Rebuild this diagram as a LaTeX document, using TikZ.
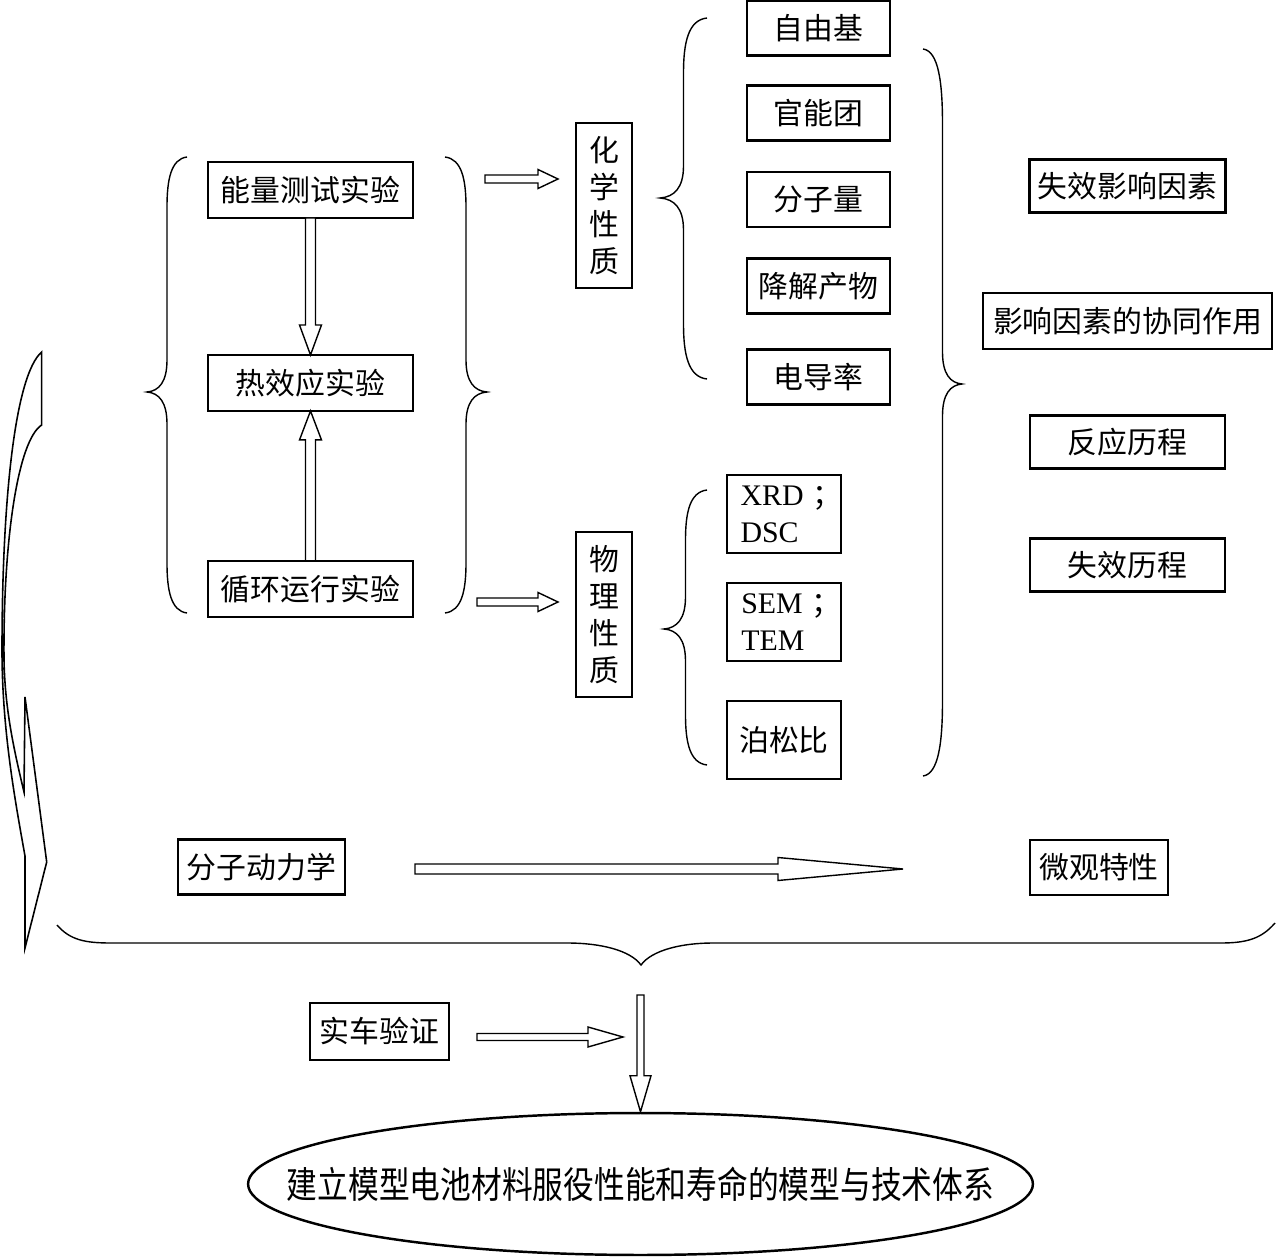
\documentclass[tikz,border=0pt]{standalone}
\usepackage{graphicx}
\usepackage{fontspec}
\setmainfont{Liberation Serif}
\newfontfamily\cjk{Noto Sans CJK SC}
\usetikzlibrary{positioning,shapes.geometric,calc}

% hollow block arrow: shaft half width, head half width, head length, from, to
\newcommand{\hollowarrow}[5]{%
  \coordinate (ha-base) at ($(#5)!#3!(#4)$);
  \draw[arrowline] ($(#4)!#1!90:(#5)$) -- ($(ha-base)!#1!90:(#5)$)
    -- ($(ha-base)!#2!90:(#5)$) -- (#5) -- ($(ha-base)!#2!-90:(#5)$)
    -- ($(ha-base)!#1!-90:(#5)$) -- ($(#4)!#1!-90:(#5)$) -- cycle;}

% vertical curly brace: x of ends, top, bottom, tip y, signed depth, end length
\newcommand{\sidebrace}[6]{%
  \draw[braceline] (#1,#2) .. controls ({#1+0.4*(#5)},{#2+2}) and ({#1+0.5*(#5)},{#2+0.45*#6}) .. ({#1+0.5*(#5)},{#2+#6})
    -- ({#1+0.5*(#5)},{#4-32}) .. controls ({#1+0.5*(#5)},{#4-10}) and ({#1+0.7*(#5)},{#4-1}) .. ({#1+#5},{#4})
    .. controls ({#1+0.7*(#5)},{#4+1}) and ({#1+0.5*(#5)},{#4+10}) .. ({#1+0.5*(#5)},{#4+32})
    -- ({#1+0.5*(#5)},{#3-#6}) .. controls ({#1+0.5*(#5)},{#3-0.45*#6}) and ({#1+0.4*(#5)},{#3-2}) .. (#1,#3);}

% full-width semicolon after a short gap
\newcommand{\fwsemi}{\hspace{0.3em}{\cjk\makebox[0.5em][l]{；}}}

\begin{document}
\begin{tikzpicture}[
  x=0.02cm, y=-0.02cm,
  box/.style={draw, line width=1.6pt, outer sep=0pt, minimum height=1.1cm,
              inner xsep=5pt, inner ysep=3pt, font=\fontsize{17}{21}\selectfont\cjk},
  testbox/.style={box, minimum width=4.1cm, minimum height=1.12cm},
  chembox/.style={box, minimum width=2.86cm},
  physbox/.style={box, minimum width=2.28cm, minimum height=1.56cm, align=left,
                  font=\fontsize{17}{21}\selectfont},
  propbox/.style={box, minimum width=1.12cm, minimum height=3.3cm, align=center},
  factbox/.style={box, minimum width=3.9cm, minimum height=1.06cm},
  goal/.style={draw, ellipse, line width=1.4pt, minimum width=15.7cm, minimum height=2.84cm,
               inner sep=0pt, font=\fontsize{17.5}{21}\selectfont\cjk},
  arrowline/.style={line width=0.8pt, fill=white, line join=miter},
  braceline/.style={line width=0.8pt},
  bendline/.style={line width=0.9pt, line join=miter}
]
\useasboundingbox (0,0) rectangle (1276,1257);

% experiments
\node[testbox] (energy) at (310.5,190) {能量测试实验};
\node[testbox, below=2.74cm of energy] (heat) {热效应实验};
\node[testbox, below=3.0cm of heat] (cycle) {循环运行实验};

% properties
\node[propbox] (chem) at (604,205.5) {化\\学\\性\\质};
\node[propbox] (phys) at (604,614.5) {物\\理\\性\\质};

% chemical items
\node[chembox] (radical) at (818.5,28) {自由基};
\node[chembox, below=0.6cm of radical] (group) {官能团};
\node[chembox, below=0.63cm of group] (mass) {分子量};
\node[chembox, below=0.63cm of mass] (product) {降解产物};
\node[chembox, below=0.72cm of product] (conduct) {电导率};

% physical items
\node[physbox] (xrd) at (784,514) {XRD\fwsemi\\DSC};
\node[physbox, below=0.6cm of xrd] (sem) {SEM\fwsemi\\TEM};
\node[physbox, below=0.8cm of sem, font=\fontsize{17}{21}\selectfont\cjk] (poisson) {泊松比};

% failure factors
\node[factbox] (factor) at (1127.5,186) {失效影响因素};
\node[factbox, minimum width=5.78cm, minimum height=1.12cm, below=1.61cm of factor] (synergy) {影响因素的协同作用};
\node[factbox, below=1.33cm of synergy] (reaction) {反应历程};
\node[factbox, below=1.4cm of reaction] (failure) {失效历程};

% molecular dynamics row
\node[box, minimum width=3.34cm] (md) at (261.5,867) {分子动力学};
\node[box, minimum width=2.76cm] (micro) at (1099,867.5) {微观特性};
\node[box, minimum width=2.78cm, minimum height=1.14cm] (car) at (379.5,1031.5) {实车验证};
\node[goal] (model) at (640.5,1184)
  {\makebox[0pt]{\scalebox{1}[1.2]{建立模型电池材料服役性能和寿命的模型与技术体系}}};

% arrow ends
\coordinate (chemtail) at (485,179);
\coordinate (chemhead) at (558,179);
\coordinate (phystail) at (477,602);
\coordinate (physhead) at (558,602);
\coordinate (mdtail) at (415,869);
\coordinate (mdhead) at (903,869);
\coordinate (cartail) at (477,1037);
\coordinate (carhead) at (623,1037);
\coordinate (downtail) at (640.5,995);

% arrows
\hollowarrow{0.1cm}{0.22cm}{0.6cm}{energy.south}{heat.north}
\hollowarrow{0.1cm}{0.22cm}{0.58cm}{cycle.north}{heat.south}
\hollowarrow{0.08cm}{0.19cm}{0.4cm}{chemtail}{chemhead}
\hollowarrow{0.08cm}{0.19cm}{0.4cm}{phystail}{physhead}
\hollowarrow{0.1cm}{0.23cm}{2.5cm}{mdtail}{mdhead}
\hollowarrow{0.07cm}{0.2cm}{0.7cm}{cartail}{carhead}
\hollowarrow{0.07cm}{0.21cm}{0.72cm}{downtail}{model.north}

% braces
\sidebrace{187}{157}{613}{392}{-40}{50}
\sidebrace{445}{157}{613}{392}{42}{50}
\sidebrace{707}{18}{379}{198}{-47}{55}
\sidebrace{707}{490}{765}{629}{-43}{50}
\sidebrace{923}{49}{776}{384}{39}{75}
\draw[braceline] (57,925) .. controls (70,940) and (85,943) .. (111,943) -- (567,943)
  .. controls (600,943) and (630,950) .. (641,965) .. controls (652,950) and (682,943) .. (713,943)
  -- (1221,943) .. controls (1248,943) and (1262,938) .. (1275,923);

% bent arrow on the left
\draw[bendline] (41.7,352) .. controls (15,375) and (2,500) .. (2,650)
  .. controls (2,730) and (15,800) .. (25,856) -- (25,948) -- (46.7,862) -- (25,697) -- (24,792)
  .. controls (14,750) and (5,710) .. (4,660) .. controls (3,540) and (18,440) .. (41.7,425) -- cycle;
\end{tikzpicture}
\end{document}
